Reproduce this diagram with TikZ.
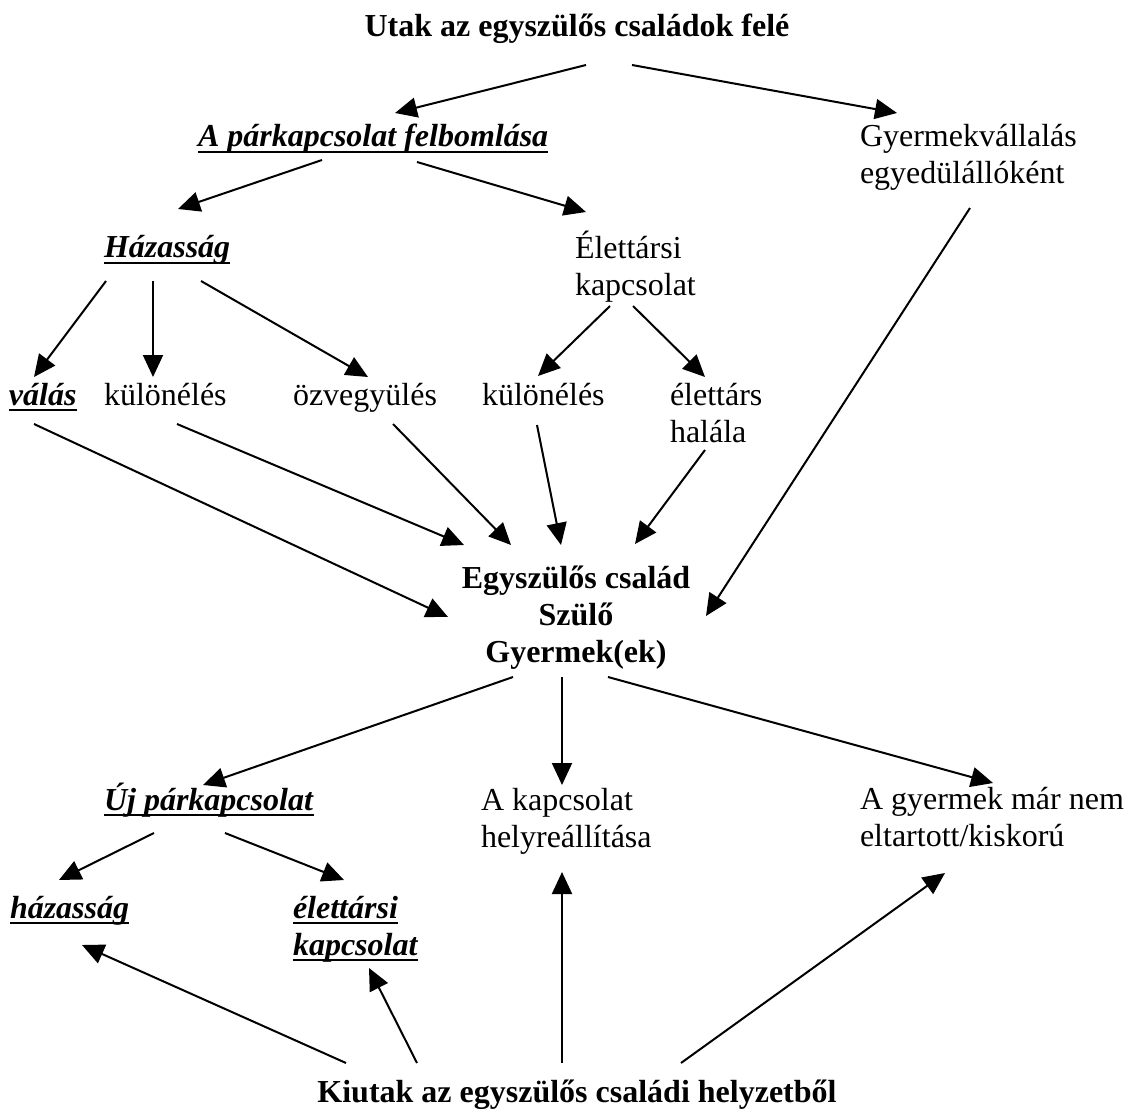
\documentclass[tikz,border=0pt]{standalone}
\usepackage{fontspec}
\setmainfont{Liberation Serif}
\usetikzlibrary{arrows.meta}
\newcommand\myul[1]{\setbox0\hbox{#1}\rlap{\rule[-6pt]{\wd0}{2pt}}\box0}
\newcommand\bi[1]{\myul{\textbf{\textit{#1}}}}
\begin{document}
\begin{tikzpicture}[x=1pt,y=-1pt,
  every node/.style={font=\fontsize{32}{37}\selectfont, inner sep=0pt, outer sep=0pt},
  txt/.style={anchor=base west, align=left},
  ctr/.style={anchor=base, align=center, font=\fontsize{32}{37}\selectfont\bfseries},
  arr/.style={draw, line width=2pt, -{Triangle[length=22pt,width=20pt]}}]
\fill[white] (0,0) rectangle (1135,1110);
\useasboundingbox (0,0) rectangle (1135,1110);

% multi-line nodes are placed by the baseline of their last line
\node[ctr] (title) at (577,37) {Utak az egyszülős családok felé};
\node[txt] (felb) at (198,147) {\bi{A párkapcsolat felbomlása}};
\node[txt] (gyv) at (860,184) {Gyermekvállalás\\egyedülállóként};
\node[txt] (haz) at (104,258) {\bi{Házasság}};
\node[txt] (elk) at (575,295) {Élettársi\\kapcsolat};
\node[txt] (valas) at (9,405) {\bi{válás}};
\node[txt] (kul1) at (104,405) {különélés};
\node[txt] (ozv) at (293,405) {özvegyülés};
\node[txt] (kul2) at (482,405) {különélés};
\node[txt] (eth) at (670,442) {élettárs\\halála};
\node[ctr] (egy) at (576,662) {Egyszülős család\\Szülő\\Gyermek(ek)};
\node[txt] (uj) at (104,810) {\bi{Új párkapcsolat}};
\node[txt] (akap) at (481,847) {A kapcsolat\\helyreállítása};
\node[txt] (agy) at (860,846) {A gyermek már nem\\eltartott/kiskorú};
\node[txt] (hazb) at (10,918) {\bi{házasság}};
\node[txt] (elb) at (293,955) {\bi{élettársi}\\\bi{kapcsolat}};
\node[ctr] (kiut) at (577,1102) {Kiutak az egyszülős családi helyzetből};

\draw[arr] ([shift={(9,28)}]title.base) -- ([shift={(197,-34)}]felb.base west);
\draw[arr] ([shift={(55,28)}]title.base) -- ([shift={(37,-71)}]gyv.base west);
\draw[arr] ([shift={(124,13)}]felb.base west) -- ([shift={(74,-49)}]haz.base west);
\draw[arr] ([shift={(219,15)}]felb.base west) -- ([shift={(11,-83)}]elk.base west);
\draw[arr] ([shift={(2,23)}]haz.base west) -- ([shift={(25,-28)}]valas.base west);
\draw[arr] ([shift={(49,23)}]haz.base west) -- ([shift={(49,-28)}]kul1.base west);
\draw[arr] ([shift={(97,23)}]haz.base west) -- ([shift={(75,-28)}]ozv.base west);
\draw[arr] ([shift={(35,11)}]elk.base west) -- ([shift={(56,-29)}]kul2.base west);
\draw[arr] ([shift={(58,11)}]elk.base west) -- ([shift={(35,-65)}]eth.base west);
\draw[arr] ([shift={(110,24)}]gyv.base west) -- ([shift={(130,-46)}]egy.base);
\draw[arr] ([shift={(25,19)}]valas.base west) -- ([shift={(-128,-45)}]egy.base);
\draw[arr] ([shift={(73,19)}]kul1.base west) -- ([shift={(-112,-117)}]egy.base);
\draw[arr] ([shift={(100,19)}]ozv.base west) -- ([shift={(-65,-117)}]egy.base);
\draw[arr] ([shift={(55,20)}]kul2.base west) -- ([shift={(-15,-117)}]egy.base);
\draw[arr] ([shift={(35,8)}]eth.base west) -- ([shift={(59,-118)}]egy.base);
\draw[arr] ([shift={(-63,15)}]egy.base) -- ([shift={(99,-25)}]uj.base west);
\draw[arr] ([shift={(-14,15)}]egy.base) -- ([shift={(81,-62)}]akap.base west);
\draw[arr] ([shift={(32,15)}]egy.base) -- ([shift={(133,-63)}]agy.base west);
\draw[arr] ([shift={(50,23)}]uj.base west) -- ([shift={(49,-38)}]hazb.base west);
\draw[arr] ([shift={(121,23)}]uj.base west) -- ([shift={(51,-75)}]elb.base west);
\draw[arr] ([shift={(-231,-39)}]kiut.base) -- ([shift={(72,27)}]hazb.base west);
\draw[arr] ([shift={(-160,-39)}]kiut.base) -- ([shift={(76,13)}]elb.base west);
\draw[arr] ([shift={(-15,-39)}]kiut.base) -- ([shift={(81,25)}]akap.base west);
\draw[arr] ([shift={(104,-39)}]kiut.base) -- ([shift={(85,27)}]agy.base west);
\end{tikzpicture}
\end{document}
